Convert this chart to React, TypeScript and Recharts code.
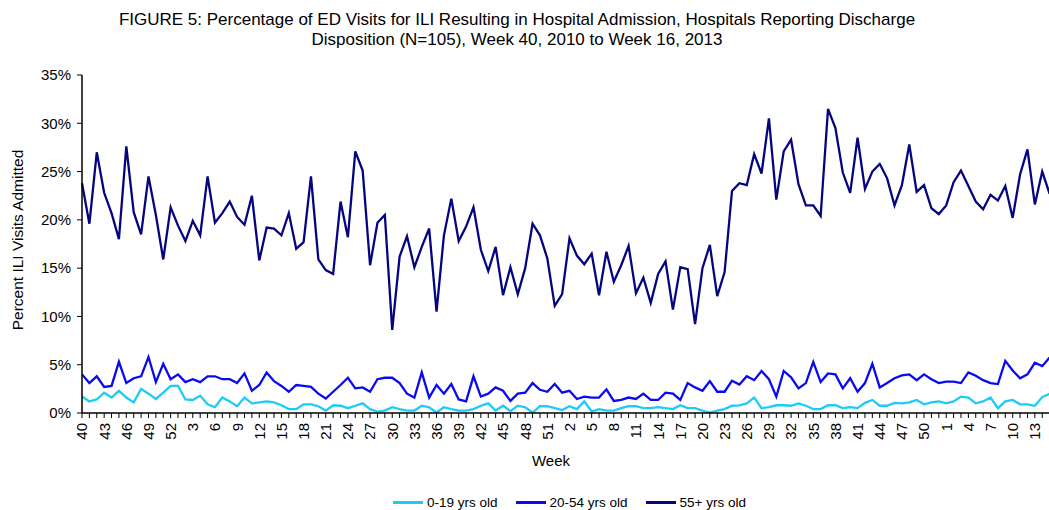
import { Line, LineChart, XAxis, YAxis } from "recharts";

// week numbers, Week 40 2010 .. Week 16 2013
const weeks = [
  40, 41, 42, 43, 44, 45, 46, 47, 48, 49, 50, 51, 52,
  1, 2, 3, 4, 5, 6, 7, 8, 9, 10, 11, 12, 13, 14, 15, 16, 17, 18, 19, 20, 21, 22, 23, 24, 25, 26,
  27, 28, 29, 30, 31, 32, 33, 34, 35, 36, 37, 38, 39, 40, 41, 42, 43, 44, 45, 46, 47, 48, 49, 50, 51, 52,
  1, 2, 3, 4, 5, 6, 7, 8, 9, 10, 11, 12, 13, 14, 15, 16, 17, 18, 19, 20, 21, 22, 23, 24, 25, 26,
  27, 28, 29, 30, 31, 32, 33, 34, 35, 36, 37, 38, 39, 40, 41, 42, 43, 44, 45, 46, 47, 48, 49, 50, 51, 52,
  1, 2, 3, 4, 5, 6, 7, 8, 9, 10, 11, 12, 13, 14, 15, 16,
];

const age0to19 = [
  1.7, 1.2, 1.4, 2.1, 1.6, 2.3, 1.6, 1.1, 2.5, 2.0, 1.45, 2.1, 2.8,
  2.8, 1.4, 1.35, 1.8, 0.9, 0.6, 1.6, 1.2, 0.7, 1.6, 1.0, 1.1, 1.2, 1.1, 0.8, 0.4, 0.4, 0.9, 0.9, 0.7,
  0.25, 0.8, 0.75, 0.5, 0.75, 1.0, 0.4, 0.15, 0.25, 0.6, 0.4, 0.25, 0.25, 0.75, 0.6, 0.05, 0.6, 0.4, 0.25, 0.25,
  0.4, 0.75, 1.0, 0.25, 0.75, 0.2, 0.75, 0.6, 0.05, 0.7, 0.7, 0.5,
  0.3, 0.7, 0.4, 1.2, 0.15, 0.4, 0.25, 0.25, 0.5, 0.7, 0.7, 0.5, 0.5, 0.6, 0.5, 0.4, 0.8, 0.5, 0.5, 0.25,
  0.05, 0.25, 0.4, 0.75, 0.8, 1.0, 1.6, 0.5, 0.6, 0.8, 0.8, 0.75, 1.0, 0.75, 0.4, 0.4, 0.8, 0.8, 0.5, 0.6,
  0.5, 1.05, 1.35, 0.75, 0.75, 1.05, 1.0, 1.1, 1.35, 0.9, 1.1, 1.2,
  1.0, 1.2, 1.7, 1.6, 1.0, 1.2, 1.6, 0.5, 1.2, 1.35, 0.9, 0.9, 0.75, 1.65, 2.0, null,
];

const age20to54 = [
  4.0, 3.1, 3.8, 2.7, 2.8, 5.3, 3.1, 3.6, 3.8, 5.8, 3.2, 5.1, 3.5,
  4.0, 3.2, 3.5, 3.2, 3.8, 3.8, 3.5, 3.5, 3.1, 4.1, 2.3, 2.9, 4.2, 3.3, 2.8, 2.2, 2.9, 2.8, 2.7, 2.0,
  1.5, 2.2, 2.9, 3.65, 2.55, 2.65, 2.2, 3.5, 3.65, 3.65, 3.1, 2.0, 1.6, 4.2, 1.6, 2.9, 2.0, 3.0, 1.4, 1.2,
  3.8, 1.7, 2.0, 2.65, 2.3, 1.25, 2.0, 2.1, 3.1, 2.4, 2.2, 3.0,
  2.1, 2.3, 1.45, 1.7, 1.6, 1.6, 2.45, 1.25, 1.35, 1.6, 1.45, 2.0, 1.35, 1.35, 2.1, 2.0, 1.35, 3.1, 2.65, 2.3,
  3.3, 2.2, 2.2, 3.35, 2.95, 3.8, 3.4, 4.35, 3.5, 1.7, 4.35, 3.7, 2.55, 3.1, 5.3, 3.2, 4.1, 4.0, 2.55, 3.6,
  2.2, 3.1, 5.1, 2.65, 3.1, 3.6, 3.9, 4.0, 3.4, 4.0, 3.5, 3.1,
  3.25, 3.25, 3.1, 4.2, 3.85, 3.4, 3.1, 3.0, 5.4, 4.4, 3.6, 4.0, 5.2, 4.85, 5.75, null,
];

const age55plus = [
  23.8, 19.6, 27.0, 22.8, 20.7, 18.0, 27.6, 20.8, 18.5, 24.5, 20.5, 15.9, 21.3,
  19.4, 17.8, 19.9, 18.4, 24.5, 19.7, 20.7, 21.9, 20.3, 19.5, 22.5, 15.8, 19.2, 19.1, 18.4, 20.7, 17.0, 17.7, 24.5, 15.9,
  14.8, 14.4, 21.9, 18.2, 27.1, 25.1, 15.3, 19.7, 20.5, 8.6, 16.2, 18.3, 15.1, 17.2, 19.1, 10.5, 18.4, 22.2, 17.8, 19.3,
  21.3, 16.9, 14.7, 17.2, 12.2, 15.1, 12.3, 15.0, 19.6, 18.4, 16.0, 11.1,
  12.3, 18.1, 16.3, 15.4, 16.5, 12.2, 16.7, 13.6, 15.3, 17.3, 12.4, 14.0, 11.4, 14.4, 15.7, 10.7, 15.1, 14.9, 9.2, 15.0,
  17.4, 12.1, 14.6, 23.0, 23.8, 23.6, 26.8, 24.8, 30.5, 22.1, 27.1, 28.3, 23.7, 21.5, 21.5, 20.4, 31.5, 29.5, 24.9, 22.8,
  28.5, 23.2, 25.0, 25.8, 24.3, 21.5, 23.6, 27.8, 22.9, 23.6, 21.2, 20.6,
  21.5, 23.9, 25.1, 23.5, 21.9, 21.1, 22.6, 22.0, 23.5, 20.2, 24.7, 27.3, 21.6, 25.0, 22.7, null,
];

const percentTicks = [0, 5, 10, 15, 20, 25, 30, 35];

const series = [
  { key: "young", name: "0-19 yrs old", color: "#1ECBF7" },
  { key: "adult", name: "20-54 yrs old", color: "#0A0AF0" },
  { key: "senior", name: "55+ yrs old", color: "#050580" },
];

const data = weeks.map((week, idx) => ({
  idx,
  week,
  young: age0to19[idx],
  adult: age20to54[idx],
  senior: age55plus[idx],
}));

const FONT = "'Liberation Sans', Arial, Helvetica, sans-serif";

// label every third week; the last one falls past the picture's right edge
function WeekTick(props: any) {
  const { x, y, payload } = props;
  const i = Number(payload.value);
  if (i % 3 !== 0 || i >= weeks.length - 1) return <g />;
  return (
    <text
      x={x}
      y={y}
      dy="0.36em"
      textAnchor="end"
      transform={`rotate(-90 ${x} ${y})`}
      fill="#000"
      fontSize={15}
      fontFamily={FONT}
    >
      {weeks[i]}
    </text>
  );
}

export default function App() {
  return (
    <div
      style={{
        position: "absolute",
        left: 0,
        top: 0,
        width: 1049,
        height: 510,
        overflow: "hidden",
        background: "#fff",
        fontFamily: FONT,
        color: "#000",
      }}
    >
      <LineChart width={1057} height={510} data={data} margin={{ top: 75, right: 0, bottom: 0, left: 0 }}>
        <XAxis
          dataKey="idx"
          type="category"
          interval={0}
          height={97}
          tick={<WeekTick />}
          tickSize={5}
          tickMargin={5}
          tickLine={{ stroke: "#000", strokeWidth: 1 }}
          axisLine={{ stroke: "#000", strokeWidth: 1.5 }}
        />
        <YAxis
          domain={[0, 35]}
          ticks={percentTicks}
          tickFormatter={(v: number) => `${v}%`}
          width={82}
          tickSize={5}
          tickMargin={6}
          tickLine={{ stroke: "#000", strokeWidth: 1 }}
          axisLine={{ stroke: "#000", strokeWidth: 1.5 }}
          tick={{ fill: "#000", fontSize: 15, fontFamily: FONT }}
        />
        {series.map((s) => (
          <Line
            key={s.key}
            type="linear"
            dataKey={s.key}
            name={s.name}
            stroke={s.color}
            strokeWidth={2.3}
            dot={false}
            isAnimationActive={false}
          />
        ))}
      </LineChart>

      <div style={{ position: "absolute", left: 0, width: 1034, top: 10, textAlign: "center", fontSize: 17, lineHeight: "20px" }}>
        FIGURE 5: Percentage of ED Visits for ILI Resulting in Hospital Admission, Hospitals Reporting Discharge
        <br />
        Disposition (N=105), Week 40, 2010 to Week 16, 2013
      </div>

      <div
        style={{
          position: "absolute",
          left: 18,
          top: 240,
          fontSize: 15.5,
          whiteSpace: "nowrap",
          transform: "translate(-50%, -50%) rotate(-90deg)",
        }}
      >
        Percent ILI Visits Admitted
      </div>

      <div style={{ position: "absolute", left: 551, top: 460, fontSize: 15, transform: "translate(-50%, -50%)" }}>Week</div>

      <div style={{ position: "absolute", left: 393, top: 495, display: "flex", alignItems: "center", fontSize: 13.5, whiteSpace: "nowrap" }}>
        {series.map((s) => (
          <div key={s.key} style={{ display: "flex", alignItems: "center", marginRight: 18 }}>
            <div style={{ width: 30, height: 2.5, background: s.color, marginRight: 4 }} />
            <span>{s.name}</span>
          </div>
        ))}
      </div>
    </div>
  );
}
